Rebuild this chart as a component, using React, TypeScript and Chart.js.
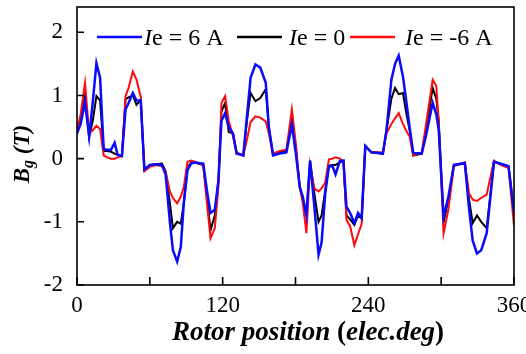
import React, { useEffect, useRef } from "react";
import { Chart, registerables } from "chart.js";

Chart.register(...registerables);

const xs = [0,3,6.6,10,13,16,19,22,25,28,31,33.5,37,40,42.5,46,49,52.5,55.5,60,65,70,73,76.5,79,82.5,85.5,88,91,94,97,104,107,110,113.5,116.5,119,122,125,128.5,131.5,137,140,143,147,151,155.5,158,161.5,167,172.5,177,180.5,183.5,186,189,192,195.5,199,201.5,204.5,207.5,210.5,213,216.5,219.5,222,225,228.5,231.5,234.5,237.5,242.5,252,255,259,262,265,268.5,271,274,277,284,288,293,296,298,302,306,310.5,319.5,323,326,329.5,333,337.5,343.5,349,355.5,360];

const bluePos = [0.4,0.55,0.9,0.35,0.9,1.51,1.28,0.15,0.14,0.14,
  0.25,0.06,0.04,0.78,0.88,1.04,0.92,0.92,-0.17,-0.1,
  -0.09,-0.1,-0.25,-1.0,-1.45,-1.63,-1.4,-0.7,-0.18,-0.08,
  -0.06,-0.08,-0.5,-0.86,-0.81,-0.35,0.6,0.72,0.5,0.4,
  0.08,0.05,0.67,1.28,1.49,1.44,1.2,0.5,0.05,0.08,
  0.1,0.54,0.05,-0.45,-0.6,-0.9,-0.03,-0.75,-1.52,-1.33,
  -0.55,-0.12,-0.12,-0.25,-0.04,-0.03,-0.76,-0.86,-1.02,-0.86,
  -0.94,0.2,0.1,0.08,0.46,1.25,1.5,1.63,1.3,0.95,
  0.5,0.09,0.08,0.41,0.88,0.7,0.45,-0.92,-0.6,-0.1,
  -0.07,-0.8,-1.3,-1.5,-1.45,-1.18,-0.05,-0.08,-0.12,-0.86];

const blackZero = [0.4,0.6,1.0,0.35,0.6,0.99,0.92,0.12,0.12,0.11,
  0.08,0.06,0.04,0.94,0.97,1.0,0.85,0.93,-0.17,-0.1,
  -0.09,-0.08,-0.2,-0.7,-1.1,-1.0,-1.03,-0.7,-0.15,-0.06,
  -0.06,-0.1,-0.6,-1.13,-0.9,-0.35,0.75,0.88,0.42,0.4,
  0.08,0.05,0.6,1.04,0.91,0.96,1.1,0.5,0.06,0.1,
  0.12,0.6,0.1,-0.45,-0.65,-0.9,-0.03,-0.55,-1.0,-0.9,
  -0.5,-0.11,-0.1,-0.1,-0.06,-0.04,-0.9,-0.96,-1.05,-0.9,
  -0.95,0.2,0.1,0.08,0.45,0.95,1.12,1.02,1.04,0.75,
  0.45,0.05,0.08,0.5,1.12,0.95,0.6,-1.0,-0.65,-0.1,
  -0.08,-0.65,-1.02,-0.9,-1.0,-1.1,-0.05,-0.08,-0.12,-0.85];

const redNeg = [0.45,0.7,1.2,0.4,0.45,0.52,0.47,0.05,0.02,0.0,
  0.0,0.02,0.04,0.99,1.12,1.38,1.25,0.98,-0.2,-0.13,
  -0.1,-0.12,-0.2,-0.52,-0.62,-0.71,-0.6,-0.45,-0.05,-0.03,
  -0.05,-0.1,-0.7,-1.26,-1.1,-0.45,0.88,0.99,0.6,0.35,
  0.1,0.05,0.3,0.58,0.67,0.65,0.59,0.4,0.08,0.12,
  0.14,0.78,0.2,-0.45,-0.7,-1.18,-0.1,-0.47,-0.52,-0.47,
  -0.38,-0.01,0.0,0.02,0.0,-0.05,-0.97,-1.07,-1.37,-1.2,
  -1.03,0.2,0.1,0.1,0.4,0.55,0.64,0.72,0.55,0.45,
  0.35,0.05,0.1,0.6,1.25,1.15,0.55,-1.18,-0.8,-0.12,
  -0.06,-0.55,-0.65,-0.67,-0.62,-0.57,-0.03,-0.1,-0.15,-1.06];

const seriesLabels = ["Ie = 6 A", "Ie = 0", "Ie = -6 A"];
const xTicks = [0, 120, 240, 360];
const xMinorTicks = [0, 60, 120, 180, 240, 300, 360];
const yTicks = [-2, -1, 0, 1, 2];
const xTitle = "Rotor position (elec.deg)";
const yTitle = "Bg (T)";

const SERIF = "'Liberation Serif', 'Times New Roman', serif";

const overlay = {
  id: "overlay",
  afterDraw(chart: any) {
    const { ctx, chartArea, scales } = chart;
    const { left, right, top, bottom } = chartArea;
    const x = scales.x;
    const y = scales.y;
    ctx.save();
    ctx.strokeStyle = "#000";
    ctx.lineWidth = 1.6;
    ctx.strokeRect(left, top, right - left, bottom - top);
    ctx.beginPath();
    xMinorTicks.forEach((v) => {
      const px = x.getPixelForValue(v);
      ctx.moveTo(px, bottom);
      ctx.lineTo(px, bottom - 8);
    });
    yTicks.forEach((v) => {
      const py = y.getPixelForValue(v);
      ctx.moveTo(left, py);
      ctx.lineTo(left + 7, py);
    });
    ctx.stroke();

    // legend
    const legendY = 37;
    const starts = [97, 237, 350];
    const textGap = [47, 52, 55];
    chart.data.datasets.forEach((ds: any, i: number) => {
      const sx = starts[i];
      ctx.strokeStyle = ds.borderColor;
      ctx.lineWidth = 2.5;
      ctx.beginPath();
      ctx.moveTo(sx, legendY);
      ctx.lineTo(sx + 45, legendY);
      ctx.stroke();
      let tx = sx + textGap[i];
      ctx.fillStyle = "#000";
      ctx.textBaseline = "alphabetic";
      ctx.textAlign = "left";
      const label: string = ds.label;
      ctx.font = `italic 24px ${SERIF}`;
      ctx.fillText(label[0], tx, legendY + 8);
      tx += ctx.measureText(label[0]).width;
      ctx.font = `24px ${SERIF}`;
      ctx.fillText(label.slice(1), tx, legendY + 8);
    });

    // x title
    ctx.fillStyle = "#000";
    ctx.textBaseline = "alphabetic";
    const segs: [string, string][] = [];
    const pOpen = xTitle.indexOf("(");
    const pClose = xTitle.indexOf(")");
    segs.push([xTitle.slice(0, pOpen), "italic bold"]);
    segs.push(["(", "bold"]);
    segs.push([xTitle.slice(pOpen + 1, pClose), "italic bold"]);
    segs.push([")", "bold"]);
    const fs = 27;
    let total = 0;
    segs.forEach(([t, f]) => {
      ctx.font = `${f} ${fs}px ${SERIF}`;
      total += ctx.measureText(t).width;
    });
    let cx = 308 - total / 2;
    segs.forEach(([t, f]) => {
      ctx.font = `${f} ${fs}px ${SERIF}`;
      ctx.fillText(t, cx, 340);
      cx += ctx.measureText(t).width;
    });

    // y title (rotated)
    ctx.translate(29, 154);
    ctx.rotate(-Math.PI / 2);
    const main = yTitle[0];
    const sub = yTitle[1];
    const rest = yTitle.slice(2);
    ctx.font = `italic bold 23px ${SERIF}`;
    const w1 = ctx.measureText(main).width;
    const w3 = ctx.measureText(rest).width;
    ctx.font = `italic bold 16px ${SERIF}`;
    const w2 = ctx.measureText(sub).width;
    let ox = -(w1 + w2 + w3) / 2;
    ctx.font = `italic bold 23px ${SERIF}`;
    ctx.fillText(main, ox, 0);
    ox += w1;
    ctx.font = `italic bold 16px ${SERIF}`;
    ctx.fillText(sub, ox, 4);
    ox += w2;
    ctx.font = `italic bold 23px ${SERIF}`;
    ctx.fillText(rest, ox, 0);
    ctx.restore();
  },
};

export default function App() {
  const ref = useRef<HTMLCanvasElement>(null);
  useEffect(() => {
    document.body.style.margin = "0";
    const mk = (arr: number[]) => xs.map((x, i) => ({ x, y: arr[i] }));
    const chart = new Chart(ref.current!, {
      type: "line",
      data: {
        datasets: [
          { label: seriesLabels[0], data: mk(bluePos), borderColor: "#0a0aff", borderWidth: 2.5, pointRadius: 0, tension: 0, order: 0 },
          { label: seriesLabels[1], data: mk(blackZero), borderColor: "#000000", borderWidth: 2, pointRadius: 0, tension: 0, order: 2 },
          { label: seriesLabels[2], data: mk(redNeg), borderColor: "#ff0a0a", borderWidth: 2, pointRadius: 0, tension: 0, order: 1 },
        ],
      },
      options: {
        animation: false,
        responsive: false,
        maintainAspectRatio: false,
        layout: { padding: { top: 7, right: 12, left: 0, bottom: 0 } },
        plugins: { legend: { display: false }, tooltip: { enabled: false } },
        scales: {
          x: {
            type: "linear",
            min: 0,
            max: 360,
            afterBuildTicks: (s: any) => { s.ticks = xTicks.map((v) => ({ value: v })); },
            afterFit: (s: any) => { s.height = 69; s.paddingLeft = 0; s.paddingRight = 0; s.paddingTop = 0; s.paddingBottom = 0; },
            grid: { display: false, drawTicks: false },
            border: { display: false },
            ticks: { padding: 7, color: "#000", autoSkip: false, maxRotation: 0, font: { family: SERIF, size: 23 } },
          },
          y: {
            type: "linear",
            min: -2,
            max: 2.4,
            afterBuildTicks: (s: any) => { s.ticks = yTicks.map((v) => ({ value: v })); },
            afterFit: (s: any) => { s.width = 77; s.paddingLeft = 0; s.paddingRight = 0; s.paddingTop = 0; s.paddingBottom = 0; },
            grid: { display: false, drawTicks: false },
            border: { display: false },
            ticks: { padding: 14, color: "#000", font: { family: SERIF, size: 23 } },
          },
        },
      },
      plugins: [overlay],
    });
    return () => chart.destroy();
  }, []);
  return (
    <div style={{ position: "absolute", left: 0, top: 0, width: 526, height: 354 }}>
      <canvas ref={ref} width={526} height={354} />
    </div>
  );
}
